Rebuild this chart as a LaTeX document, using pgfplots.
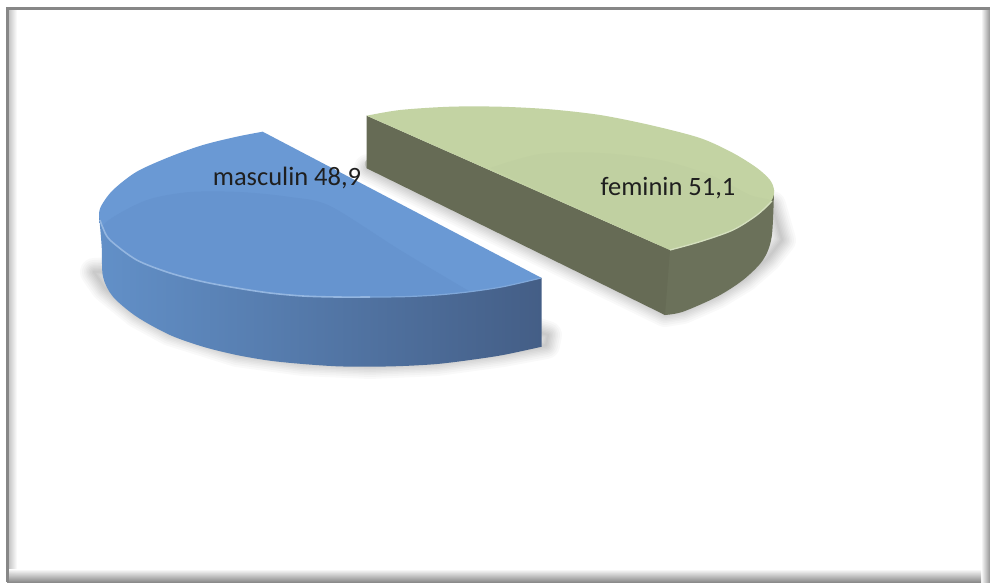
\documentclass[border=0pt]{standalone}
\usepackage{pgfplots}
\pgfplotsset{compat=1.18}
\usepackage{fontspec}
\setmainfont{Carlito}
\definecolor{bluetop}{HTML}{6A99D4}
\definecolor{bluelow}{HTML}{6694CF}
\definecolor{greentop}{HTML}{C3D3A3}
\definecolor{greenlow}{HTML}{C0D0A1}
\definecolor{greenside}{HTML}{666B55}
\definecolor{greenedge}{HTML}{6B715A}
\definecolor{sideL}{HTML}{6290C8}
\definecolor{sideM}{HTML}{557CAA}
\definecolor{sideR}{HTML}{445E86}
\newcommand{\BlueShadow}{(94,272)(105,288)(137,314)(170,332)(237,353)(303,362)(370,365)(437,362)(503,353)(546,345)(548,335)(300,260)}
\newcommand{\GreenShadow}{(368,168)(665,313)(683,310)(717,295)(745,278)(768,258)(782,240)(772,205)(600,200)}
\begin{document}
\begin{tikzpicture}
\begin{axis}[
  scale only axis, width=990pt, height=582pt,
  xmin=0, xmax=990, ymin=0, ymax=582, y dir=reverse,
  hide axis, clip=true]
% page background, keeps the full extent
\addplot[draw=none, fill=white, forget plot] coordinates {(0,0)(990,0)(990,582)(0,582)} --cycle;
% frame fades
\addplot[draw=none, shade, left color=black!22, right color=white, forget plot] coordinates {(9,9)(17,9)(17,574)(9,574)} --cycle;
\addplot[draw=none, shade, left color=white, right color=black!42, forget plot] coordinates {(981,9)(990,9)(990,582)(981,582)} --cycle;
\addplot[draw=none, shade, top color=white, top color=white, bottom color=black!48, opacity=0.95, forget plot] coordinates {(7,569)(981,569)(981,582)(7,582)} --cycle;
% frame lines
\addplot[draw=none, fill=black!47, forget plot] coordinates {(6,7)(990,7)(990,10)(6,10)} --cycle;
\addplot[draw=none, fill=black!47, forget plot] coordinates {(6,7)(9,7)(9,582)(6,582)} --cycle;
% soft shadows
\foreach \w in {28,24,20,17,14,11,8,5,2}{
  \edef\temp{\noexpand\addplot[draw=black, line width=\w pt, line join=round, draw opacity=0.024, forget plot] coordinates {\BlueShadow} --cycle;}
  \temp
  \edef\temp{\noexpand\addplot[draw=black, line width=\w pt, line join=round, draw opacity=0.024, forget plot] coordinates {\GreenShadow} --cycle;}
  \temp
}
% blue side
\addplot[draw=none, smooth, shade, left color=sideL, middle color=sideM, right color=sideR, forget plot] coordinates {
 (99,215)(101.7,246.7)(103,276.7)(113,296.7)(136.7,316.7)(170,335)(203,346.7)(236.7,355)(270,360.7)(303,364)(337,366.3)(370,366.7)(403,366)(437,364)(470,360)(503,355)(541.7,346.7)}
 -- (axis cs:541.7,278) -- (axis cs:370,250) -- cycle;
% blue top
\addplot[draw=none, smooth, fill=bluetop, forget plot] coordinates {
 (262.7,131.7)(236.7,136.7)(203,145)(170,156.7)(136.7,171.7)(113,190)(101.7,205)(99,215)(103,226)(110,240)(136.7,260)(170,273)(203,281.7)(236.7,288)(270,293)(303,296)(337,297)(370,297)(403,296.7)(437,295)(470,291.7)(503,286.7)(541.7,278)} --cycle;
\addplot[draw=none, smooth, fill=bluelow, forget plot] coordinates {
 (470,291.7)(400,250)(330,206)(290,197)(240,192)(190,192)(150,199)(120,213)(103,226)(110,240)(136.7,260)(170,273)(203,281.7)(236.7,288)(270,293)(303,296)(337,297)(370,297)(403,296.7)(437,295)(470,291.7)} --cycle;
\addplot[smooth, color=bluetop!72!white, line width=1.6pt, forget plot] coordinates {
 (100,220)(103,228)(110,240)(136.7,260)(170,273)(203,281.7)(236.7,288)(270,293)(303,296)(337,297)(370,297)};
\addplot[smooth, color=bluetop!85!white, line width=1.2pt, forget plot] coordinates {
 (370,297)(403,296.7)(437,295)(470,291.7)(503,286.7)(541,278)};
% green sides
\addplot[draw=none, smooth, fill=greenedge, forget plot] coordinates {
 (774,190)(771.7,236.7)(763,260)(743,280)(717,296.7)(683,311.7)(665,315)}
 -- (axis cs:650,305) -- (axis cs:660,245) -- (axis cs:700,200) -- cycle;
\addplot[draw=none, fill=greenside, forget plot] coordinates {(366.7,115.7)(366.7,168.3)(665,315)(670,250)} --cycle;
% green top
\addplot[draw=none, smooth, fill=greentop, forget plot] coordinates {
 (366.7,115.7)(400,110)(450,106.7)(500,106.7)(550,109.3)(600,115)(650,125)(700,138)(733,153)(757,168)(770,180)(774,190)(771.7,200)(757,215)(733,230)(700,241.7)(670,250)} --cycle;
\addplot[draw=none, smooth, fill=greenlow, forget plot] coordinates {
 (490,168)(540,154)(600,153)(660,160)(710,175)(750,195)(771,201)(757,215)(733,230)(700,241.7)(670,250)} --cycle;
\addplot[smooth, color=greentop!70!white, line width=1.3pt, forget plot] coordinates {(772,201)(757,215)(733,230)(700,241.7)(670,250)};
\addplot[draw=none, smooth, fill=greenside, opacity=0.25, forget plot] coordinates {(366.7,168.3)(366.7,160)(400,155)(440,155)} -- (axis cs:500,183) -- (axis cs:430,190) --cycle;
% labels
\node[text=black!88, font=\fontsize{26.5}{30}\selectfont, inner sep=0pt] at (axis cs:287,178) {masculin 48,9};
\node[text=black!88, font=\fontsize{26.5}{30}\selectfont, inner sep=0pt] at (axis cs:668,188) {feminin 51,1};
\end{axis}
\end{tikzpicture}
\end{document}
